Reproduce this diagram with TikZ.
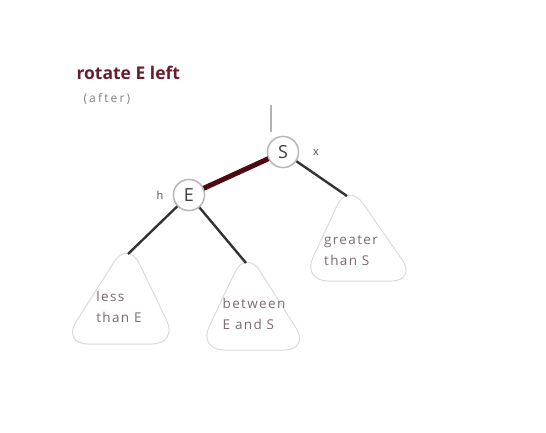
\documentclass[tikz,border=0pt]{standalone}
\usepackage{fontspec}
\setmainfont{Open Sans}
\newfontfamily\widefont[LetterSpace=10]{Open Sans}
\newfontfamily\widerfont[LetterSpace=18]{Open Sans}
\definecolor{dred}{HTML}{6A1E2E}
\definecolor{redge}{HTML}{4E0A10}
\definecolor{tgray}{HTML}{7A6A6E}
\begin{document}
\begin{tikzpicture}[x=1pt,y=-1pt,
  keynode/.style={circle,draw=black!28,line width=1.4pt,fill=white,minimum size=31pt,inner sep=0pt,font=\widefont\fontsize{18}{18}\selectfont,text=black!75},
  link/.style={draw=black!80,line width=2.4pt},
  redlink/.style={draw=redge,line width=5pt},
  subtree/.style={draw=black!14,line width=1pt,rounded corners=26pt},
  lbl/.style={font=\widefont\fontsize{13.5}{21}\selectfont,text=tgray,align=left},
  small/.style={font=\fontsize{11}{11}\selectfont,text=black!70}]
\useasboundingbox (0,0) rectangle (546,432);
% title
\node[anchor=west,font=\fontsize{17.5}{17.5}\selectfont\bfseries,text=dred] (title) at (73,73) {rotate E left};
\node[anchor=west,font=\widerfont\fontsize{12}{12}\selectfont,text=black!50] (after) at (80,99) {(after)};
% subtrees
\draw[subtree] (128,240) -- (178,344) -- (62,344) -- cycle;
\draw[subtree] (246,249) -- (310,350) -- (198,350) -- cycle;
\draw[subtree] (348,182) -- (417,281) -- (302,281) -- cycle;
\coordinate (tl) at (128,254);
\coordinate (tm) at (246,263);
\coordinate (tr) at (347,196);
\node[lbl] (l1) at (119,307) {less\\than E};
\node[lbl] (l2) at (254,314) {between\\E and S};
\node[lbl] (l3) at (351,251) {greater\\than S};
% nodes
\coordinate (top) at (271,105);
\node[keynode] (S) at (283,152) {S};
\node[keynode] (E) at (189,195) {E};
\node[small] (x) at (316,153) {x};
\node[small] (h) at (160,195) {h};
% links
\draw[draw=black!30,line width=1.2pt] (top) -- (271,132);
\draw[link] (S) -- (tr);
\draw[link] (E) -- (tl);
\draw[link] (E) -- (tm);
\draw[redlink,shorten <=-1pt,shorten >=-1pt] (E) -- (S);
\node[keynode] at (S) {S};
\node[keynode] at (E) {E};
\end{tikzpicture}
\end{document}
